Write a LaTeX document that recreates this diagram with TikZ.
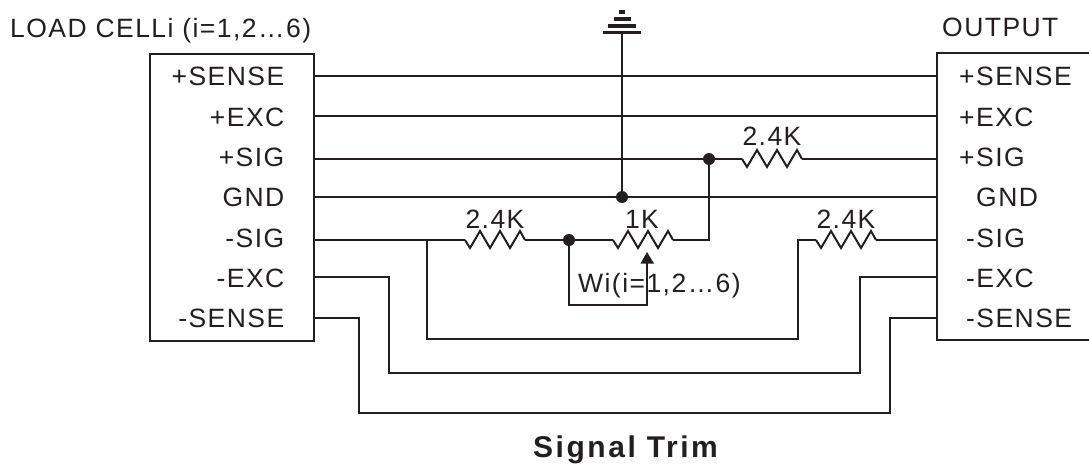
\documentclass[tikz,border=0pt]{standalone}
\usepackage{fontspec}
\setmainfont{Liberation Sans}
\newfontfamily\lblfont[LetterSpace=5.5]{Liberation Sans}
\newfontfamily\ttlfont[LetterSpace=8.5]{Liberation Sans}
\definecolor{ink}{HTML}{231F20}
\tikzset{
  wire/.style={draw=ink,line width=2pt,line join=miter},
  termbox/.style={draw=ink,line width=2pt,fill=none},
  lbl/.style={text=ink,font=\fontsize{26.5}{26.5}\selectfont\lblfont,inner sep=0pt},
  lblw/.style={lbl,anchor=base west},
  lble/.style={lbl,anchor=base east},
  lblc/.style={lbl,anchor=base},
  jdot/.style={circle,fill=ink,draw=none,inner sep=0pt,minimum size=12pt},
  gbar/.style={draw=ink,line width=3.8pt},
}
\newcommand{\zigzag}[3]{%
  \coordinate (#1-a) at (#2,#3);
  \coordinate (#1-b) at (#2+60,#3);
  \draw[wire] (#1-a) -- ++(5,8) -- ++(10,-17) -- ++(10,17) -- ++(10,-17) -- ++(10,17) -- ++(10,-17) -- (#1-b);
}
\begin{document}
\begin{tikzpicture}[x=1pt,y=-1pt]
\useasboundingbox (0,0) rectangle (1089,466);
% boxes
\node[termbox,minimum width=164pt,minimum height=287pt,inner sep=0pt,anchor=north west] (L) at (149,53) {};
\draw[termbox] (1089,53) -- (937,53) -- (937,340) -- (1089,340);
% port coordinates
\foreach \n/\y in {a/76,b/116,c/159,d/197,e/240,f/277,g/318}{
  \coordinate (L\n) at (313,\y);
  \coordinate (R\n) at (937,\y);
}
% titles
\node[lblw] (t1) at (10,37) {LOAD CELLi (i=1,2…6)};
\node[lblw] (t2) at (942,36.5) {OUTPUT};
% left labels
\node[lble] (l1) at (284.5,85) {+SENSE};
\node[lble] (l2) at (284.5,126) {+EXC};
\node[lble] (l3) at (284.5,166) {+SIG};
\node[lble] (l4) at (284.5,206) {GND};
\node[lble] (l5) at (284.5,247) {-SIG};
\node[lble] (l6) at (284.5,287) {-EXC};
\node[lble] (l7) at (284.5,327) {-SENSE};
% right labels
\node[lblw] (r1) at (959,85) {+SENSE};
\node[lblw] (r2) at (959,126) {+EXC};
\node[lblw] (r3) at (959,166) {+SIG};
\node[lblw] (r4) at (976,206) {GND};
\node[lblw] (r5) at (966,247) {-SIG};
\node[lblw] (r6) at (966,287) {-EXC};
\node[lblw] (r7) at (966,327) {-SENSE};
% junctions
\node[jdot] (jg) at (622,197) {};
\node[jdot] (js) at (709,159) {};
\node[jdot] (jw) at (569,240) {};
% resistors
\zigzag{r1z}{465}{240}
\zigzag{pot}{613}{240}
\zigzag{r2z}{742}{159}
\zigzag{r3z}{816}{240}
\node[lblc] (v1) at (495,228.5) {2.4K};
\node[lblc] (v2) at (642,228.5) {1K};
\node[lblc] (v3) at (772,145) {2.4K};
\node[lblc] (v4) at (846,228) {2.4K};
% straight wires
\draw[wire] (La) -- (Ra);
\draw[wire] (Lb) -- (Rb);
\draw[wire] (Lc) -- (js.center) -- (r2z-a);
\draw[wire] (r2z-b) -- (Rc);
\draw[wire] (Ld) -- (Rd);
% -SIG
\coordinate (b1) at (427,240);
\coordinate (b2) at (427,338.5);
\coordinate (b3) at (798,338.5);
\coordinate (b4) at (798,240);
\draw[wire] (Le) -- (r1z-a);
\draw[wire] (r1z-b) -- (jw.center) -- (pot-a);
\draw[wire] (pot-b) -- (709,240) -- (js.center);
\draw[wire] (b1) -- (b2) -- (b3) -- (b4) -- (r3z-a);
\draw[wire] (r3z-b) -- (Re);
% -EXC
\draw[wire] (Lf) -- (389,277) -- (389,372.5) -- (860,372.5) -- (860,277) -- (Rf);
% -SENSE
\draw[wire] (Lg) -- (359,318) -- (359,412.5) -- (890,412.5) -- (890,318) -- (Rg);
% ground
\coordinate (g0) at (622,32.5);
\draw[wire] (g0) -- (jg.center);
\draw[gbar] (603,32.5) -- (641,32.5);
\draw[gbar] (608,25.7) -- (636,25.7);
\draw[gbar] (613.7,19) -- (630.7,19);
\draw[gbar] (619,12) -- (625,12);
% wiper
\coordinate (wp) at (647,252);
\draw[wire] (jw.center) -- (569,305) -- (647,305) -- (647,262);
\fill[ink] (wp) -- (654,263.5) -- (640.5,263.5) -- cycle;
\node[lblw] (wl) at (578,292.5) {Wi(i=1,2…6)};
% title
\node[text=ink,font=\fontsize{30}{30}\selectfont\bfseries\ttlfont,inner sep=0pt,anchor=base] (ttl) at (625.5,457) {Signal Trim};
\end{tikzpicture}
\end{document}
